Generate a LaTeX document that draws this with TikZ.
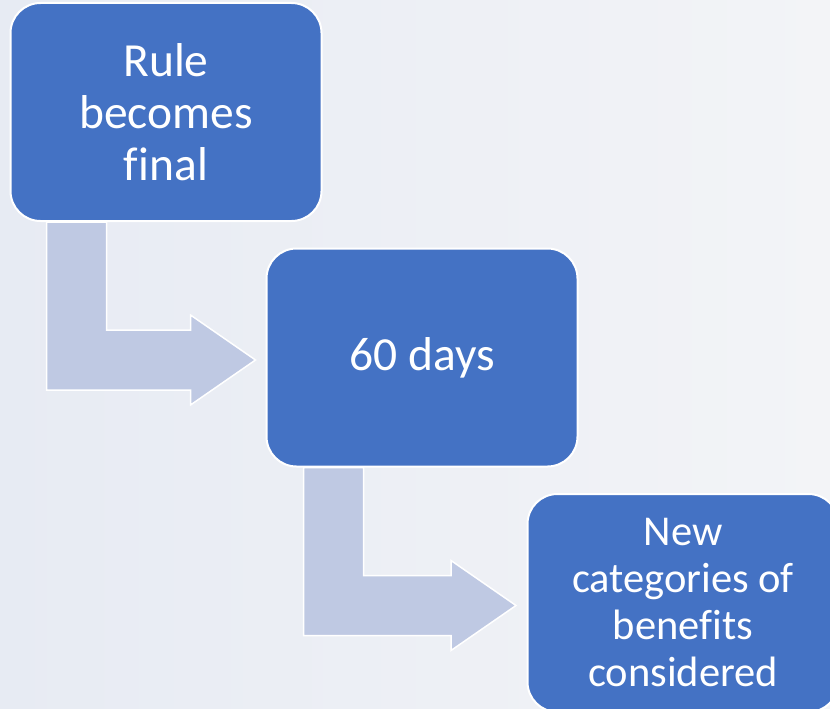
\documentclass[tikz,border=0pt]{standalone}
\usepackage{fontspec}
\setmainfont{Carlito}[Ligatures=NoCommon]
\usetikzlibrary{calc}
\definecolor{stepblue}{RGB}{68,114,196}
\definecolor{bentgray}{RGB}{191,201,227}
\definecolor{slidel}{RGB}{231,235,243}
\definecolor{slider}{RGB}{243,244,247}
\begin{document}
\begin{tikzpicture}[x=1pt,y=-1pt,
	stepbox/.style={draw=white,line width=2pt,fill=stepblue,rounded corners=30pt,
		minimum width=311pt,minimum height=218pt,inner sep=0pt,text=white,align=center,
		font=\fontsize{47.5}{52}\selectfont},
	bentarrow/.style={draw=white,line width=1.5pt,fill=bentgray,line join=miter}]
		\useasboundingbox (0,0) rectangle (830,709);
		\clip (0,0) rectangle (830,709);
		\shade[left color=slidel,right color=slider] (0,0) rectangle (830,709);
		\node[stepbox] (rule) at (166,112) {Rule\\becomes\\final};
		\node[stepbox] (days) at (422,357.5) {60 days};
		\node[stepbox,font=\fontsize{42.5}{47}\selectfont] (benefits) at (683,603) {New\\categories of\\benefits\\considered};
		% bent arrows between the boxes
		\coordinate (top1) at ($(rule.south west)+(37,0)$);
		\coordinate (tip1) at ($(days.west)+(-10,2.5)$);
		\coordinate (bot1) at ($(tip1)+(0,30)$);
		\draw[bentarrow] (top1) -- ++(60,0) |- ($(tip1)+(-65,-30)$) -- ++(0,-15) -- (tip1)
			-- ($(tip1)+(-65,45)$) -- ++(0,-15) -- (top1 |- bot1) -- cycle;
		\coordinate (top2) at ($(days.south west)+(38,0)$);
		\coordinate (tip2) at ($(benefits.west)+(-10.5,2.5)$);
		\coordinate (bot2) at ($(tip2)+(0,30)$);
		\draw[bentarrow] (top2) -- ++(60,0) |- ($(tip2)+(-65,-30)$) -- ++(0,-15) -- (tip2)
			-- ($(tip2)+(-65,45)$) -- ++(0,-15) -- (top2 |- bot2) -- cycle;
\end{tikzpicture}
\end{document}
